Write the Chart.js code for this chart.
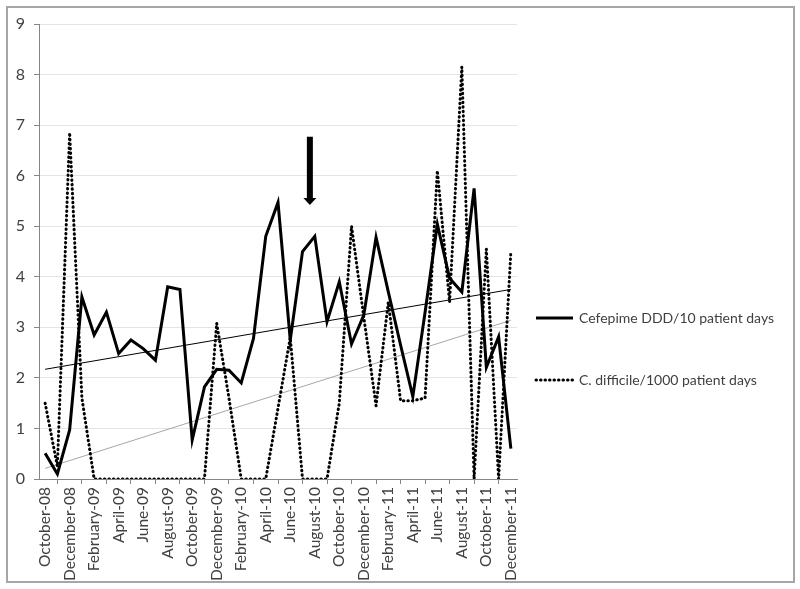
<!DOCTYPE html>
<html>
<head>
<meta charset="utf-8">
<script src="https://cdn.jsdelivr.net/npm/chart.js@4/dist/chart.umd.min.js"></script>
<style>
  body { margin: 0; background: #fff; }
  #wrap { position: relative; width: 800px; height: 589px; }
  #frame { position: absolute; left: 6px; top: 6px; width: 785px; height: 573px; border: 2px solid #a6a6a6; pointer-events: none; }
</style>
</head>
<body>
<div id="wrap">
  <canvas id="chart" width="800" height="589"></canvas>
  <div id="frame"></div>
</div>
<script>
const months = [
  'October-08', 'November-08', 'December-08',
  'January-09', 'February-09', 'March-09', 'April-09', 'May-09', 'June-09',
  'July-09', 'August-09', 'September-09', 'October-09', 'November-09', 'December-09',
  'January-10', 'February-10', 'March-10', 'April-10', 'May-10', 'June-10',
  'July-10', 'August-10', 'September-10', 'October-10', 'November-10', 'December-10',
  'January-11', 'February-11', 'March-11', 'April-11', 'May-11', 'June-11',
  'July-11', 'August-11', 'September-11', 'October-11', 'November-11', 'December-11'
];

const cefepime = [0.51, 0.1, 0.97, 3.6, 2.85, 3.3, 2.48, 2.75, 2.58, 2.35, 3.8, 3.75, 0.77,
  1.82, 2.17, 2.15, 1.9, 2.78, 4.8, 5.47, 2.75, 4.5, 4.8, 3.11, 3.9, 2.67, 3.24,
  4.78, 3.7, 2.65, 1.63, 3.3, 5.04, 3.97, 3.7, 5.75, 2.21, 2.81, 0.6];

const cdiff = [1.5, 0.25, 6.85, 1.6, 0, 0, 0, 0, 0, 0, 0, 0, 0,
  0, 3.08, 1.6, 0, 0, 0, 1.4, 2.8, 0, 0, 0, 1.5, 5.0, 3.2,
  1.45, 3.5, 1.55, 1.55, 1.6, 6.1, 3.5, 8.15, 0, 4.55, 0, 4.5];

// linear trend lines, start and end values
const cefepimeTrend = [2.17, 3.75];
const cdiffTrend = [0.21, 3.14];

const yTicks = [0, 1, 2, 3, 4, 5, 6, 7, 8, 9];

// arrow marking the intervention (category index, top and tip values)
const arrowAt = 21.6;
const arrowTop = 6.77;
const arrowTip = 5.42;

function trendData(ends) {
  const arr = months.map(() => null);
  arr[0] = ends[0];
  arr[arr.length - 1] = ends[1];
  return arr;
}

const textColor = '#404040';
const font = 'Lato, "Liberation Sans", sans-serif';

const arrowPlugin = {
  id: 'arrow',
  afterDatasetsDraw(chart) {
    const ctx = chart.ctx;
    const x = chart.scales.x.getPixelForValue(arrowAt);
    const y0 = chart.scales.y.getPixelForValue(arrowTop);
    const y1 = chart.scales.y.getPixelForValue(arrowTip);
    ctx.save();
    ctx.fillStyle = '#000';
    ctx.fillRect(x - 3, y0, 6, (y1 - y0) - 7);
    ctx.beginPath();
    ctx.moveTo(x - 6.5, y1 - 7);
    ctx.lineTo(x + 6.5, y1 - 7);
    ctx.lineTo(x, y1);
    ctx.closePath();
    ctx.fill();
    ctx.restore();
  }
};

const legendPlugin = {
  id: 'sideLegend',
  afterDraw(chart) {
    const ctx = chart.ctx;
    const rows = [318, 380];
    ctx.save();
    ctx.font = '14px ' + font;
    ctx.textBaseline = 'middle';
    chart.data.datasets.slice(0, 2).forEach((ds, i) => {
      const y = rows[i];
      ctx.beginPath();
      ctx.strokeStyle = ds.borderColor;
      ctx.lineWidth = ds.borderWidth;
      ctx.lineCap = ds.borderCapStyle || 'butt';
      ctx.setLineDash(ds.borderDash || []);
      ctx.moveTo(536, y);
      ctx.lineTo(573, y);
      ctx.stroke();
      ctx.setLineDash([]);
      ctx.fillStyle = textColor;
      ctx.fillText(ds.label, 579, y);
    });
    ctx.restore();
  }
};

new Chart(document.getElementById('chart'), {
  type: 'line',
  data: {
    labels: months,
    datasets: [
      {
        label: 'Cefepime DDD/10 patient days',
        data: cefepime,
        borderColor: '#000',
        borderWidth: 3,
        pointRadius: 0,
        tension: 0
      },
      {
        label: 'C. difficile/1000 patient days',
        data: cdiff,
        borderColor: '#000',
        borderWidth: 3,
        borderDash: [0.5, 4],
        borderCapStyle: 'round',
        pointRadius: 0,
        tension: 0
      },
      {
        label: 'trend cefepime',
        data: trendData(cefepimeTrend),
        borderColor: '#000',
        borderWidth: 1,
        pointRadius: 0,
        spanGaps: true
      },
      {
        label: 'trend cdiff',
        data: trendData(cdiffTrend),
        borderColor: '#a6a6a6',
        borderWidth: 1,
        pointRadius: 0,
        spanGaps: true
      }
    ]
  },
  options: {
    responsive: false,
    animation: false,
    layout: { padding: { left: 0, top: 24, right: 283, bottom: 0 } },
    plugins: {
      legend: { display: false },
      tooltip: { enabled: false }
    },
    scales: {
      x: {
        offset: true,
        grid: { offset: true, drawOnChartArea: false, color: '#868686', tickLength: 5 },
        border: { color: '#868686', width: 1 },
        ticks: {
          autoSkip: false,
          maxRotation: 90,
          minRotation: 90,
          padding: 3,
          color: textColor,
          font: { family: font, size: 15.5 },
          callback: (v, i) => (i % 2 === 0 ? months[i] : null)
        },
        afterFit: s => { s.height = 110; }
      },
      y: {
        min: 0,
        max: 9,
        afterBuildTicks: s => { s.ticks = yTicks.map(v => ({ value: v })); },
        grid: { color: '#e4e4e4', tickLength: 5, tickColor: '#868686' },
        border: { color: '#868686', width: 1 },
        ticks: {
          padding: 9,
          color: textColor,
          font: { family: font, size: 16 }
        },
        afterFit: s => { s.width = 39; }
      }
    }
  },
  plugins: [arrowPlugin, legendPlugin]
});
</script>
</body>
</html>
